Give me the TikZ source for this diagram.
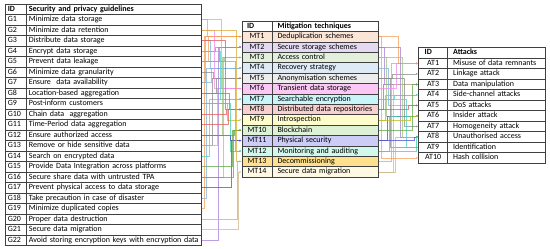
\documentclass[tikz,border=0pt]{standalone}
\usepackage{fontspec}
\setmainfont{Carlito}
\usetikzlibrary{arrows.meta, positioning}
\definecolor{cline}{HTML}{404040}
% row fills of the mitigation table
\definecolor{mtfill1}{HTML}{FBE5D6}
\definecolor{mtfill2}{HTML}{E4D9F2}
\definecolor{mtfill3}{HTML}{E2EFDA}
\definecolor{mtfill4}{HTML}{DEEAF6}
\definecolor{mtfill5}{HTML}{EDEDED}
\definecolor{mtfill6}{HTML}{FBC8F5}
\definecolor{mtfill7}{HTML}{C9F5F9}
\definecolor{mtfill8}{HTML}{F9D0D0}
\definecolor{mtfill9}{HTML}{FFFCCC}
\definecolor{mtfill10}{HTML}{DDF2D5}
\definecolor{mtfill11}{HTML}{CCCCF7}
\definecolor{mtfill12}{HTML}{D2F8EC}
\definecolor{mtfill13}{HTML}{FFE08C}
\definecolor{mtfill14}{HTML}{FDF9E2}
% connector colours, one per technique
\definecolor{mtline1}{HTML}{F5A05A}
\definecolor{mtline2}{HTML}{A57FD6}
\definecolor{mtline3}{HTML}{9CC77E}
\definecolor{mtline4}{HTML}{7EB4E2}
\definecolor{mtline5}{HTML}{8C8C8C}
\definecolor{mtline6}{HTML}{F28CF0}
\definecolor{mtline7}{HTML}{4FD3D3}
\definecolor{mtline8}{HTML}{E35A5A}
\definecolor{mtline9}{HTML}{BDBD1E}
\definecolor{mtline10}{HTML}{5FA84B}
\definecolor{mtline11}{HTML}{4E4ED0}
\definecolor{mtline12}{HTML}{3FD3A4}
\definecolor{mtline13}{HTML}{DDAE35}
\definecolor{mtline14}{HTML}{CDB888}
\tikzset{
  every picture/.style={font=\fontsize{8}{9}\selectfont, line width=0.7pt},
  cell/.style={draw=cline, anchor=north west, inner ysep=0pt, text height=6pt, text depth=2pt, minimum height=#1},
  cell/.default=10.5pt,
  link/.style={draw=mtline#1, draw opacity=0.75, line width=0.45pt, -{Latex[length=2.2pt, width=2pt]}},
  head/.style={font=\fontsize{8}{9}\selectfont\bfseries},
}

\begin{document}
\begin{tikzpicture}[x=1pt, y=-1pt,
  gid/.style={cell, text width=16pt, inner xsep=2.5pt, align=left},
  gtxt/.style={cell, text width=170pt, inner xsep=2.5pt, align=left},
  mhid/.style={cell=10.4pt, text width=20pt, inner xsep=5pt, align=left},
  mid/.style={cell=10.4pt, minimum width=30pt, inner xsep=0pt},
  mtxt/.style={cell=10.4pt, text width=95.6pt, inner xsep=5.5pt, align=left},
  ahid/.style={cell, text width=17pt, inner xsep=6pt, align=left},
  aid/.style={cell, minimum width=29pt, inner xsep=0pt},
  atxt/.style={cell, text width=86.7pt, inner xsep=5.5pt, align=left}]
  \useasboundingbox (0,0) rectangle (550,249);
  % guidelines
  \node[gid, head] (gidh) at (5,3.5) {ID};
  \node[gtxt, head] (gh) at (26,3.5) {Security and privacy guidelines};
  \foreach \i/\t in {1/Minimize data storage,2/Minimize data retention,3/Distribute data storage,4/Encrypt data storage,5/Prevent data leakage,6/Minimize data granularity,7/Ensure\ \ data availability,8/Location-based aggregation,9/Post-inform customers,10/Chain data\ \ aggregation,11/Time-Period data aggregation,12/Ensure authorized access,13/Remove or hide sensitive data,14/Search on encrypted data,15/Provide Data Integration across platforms,16/Secure share data with untrusted TPA,17/Prevent physical access to data storage,18/Take precaution in case of disaster,19/Minimize duplicated copies,20/Proper data destruction,21/Secure data migration,22/Avoid storing encryption keys with encryption data} {
    \node[gid] (gid\i) at (5,{3.5+10.5*\i}) {G\i};
    \node[gtxt] (g\i) at (26,{3.5+10.5*\i}) {\t};
  }
  % mitigation techniques
  \node[mhid, head] (midh) at (241.7,20.7) {ID};
  \node[mtxt, head] (mh) at (271.7,20.7) {Mitigation techniques};
  \foreach \i/\t in {1/Deduplication schemes,2/Secure storage schemes,3/Access control,4/Recovery strategy,5/Anonymisation schemes,6/Transient data storage,7/Searchable encryption,8/Distributed data repositories,9/Introspection,10/Blockchain,11/Physical security,12/Monitoring and auditing,13/Decommissioning,14/Secure data migration} {
    \node[mid, fill=mtfill\i] (mid\i) at (241.7,{20.7+10.4*\i}) {MT\i};
    \node[mtxt, fill=mtfill\i] (mt\i) at (271.7,{20.7+10.4*\i}) {\t};
  }
  % attacks
  \node[ahid, head] (aidh) at (418.3,47.3) {ID};
  \node[atxt, head] (ah) at (447.3,47.3) {Attacks};
  \foreach \i/\t in {1/Misuse of data remnants,2/Linkage attack,3/Data manipulation,4/Side-channel attacks,5/DoS attacks,6/Insider attack,7/Homogeneity attack,8/Unauthorised access,9/Identification,10/Hash collision} {
    \node[aid] (aid\i) at (418.3,{47.3+10.5*\i}) {AT\i};
    \node[atxt] (at\i) at (447.3,{47.3+10.5*\i}) {\t};
  }
  % guidelines -> techniques
  \foreach \s/\t/\x in {19/1/204,7/1/205,18/4/206,1/1/207,5/1/208,14/7/209,3/4/210,7/4/211,13/5/212,6/5/213,2/6/214,4/2/215,8/5/216,13/6/217,22/2/218,5/2/219,4/7/220,1/6/221,12/3/222,16/3/223,5/3/224,3/8/225,10/8/226,9/9/226.8,11/8/227.6,8/8/228.4,9/12/229.2,12/11/230,17/11/231,15/10/232,16/10/233,12/10/234,5/12/235,2/13/236,20/13/237,21/14/238} {
    \pgfmathsetmacro\d{\x-201}
    \draw[link=\t] (g\s.east) -- ++(\d,0) |- (mid\t.west);
  }
  % techniques -> attacks
  \foreach \s/\t/\x in {1/10/381,8/3/383,2/3/384,9/4/385,3/6/386,11/6/387,4/5/388,12/6/389,5/9/390,13/1/391,5/2/392,14/3/393,7/4/394,14/8/395,6/1/396,1/1/398,2/8/400,3/8/402,5/7/404,7/9/406,8/5/408,9/6/410,10/3/412,11/8/414,12/8/416} {
    \pgfmathsetmacro\d{\x-378.3}
    \draw[link=\s] (mt\s.east) -- ++(\d,0) |- (aid\t.west);
  }
\end{tikzpicture}
\end{document}
